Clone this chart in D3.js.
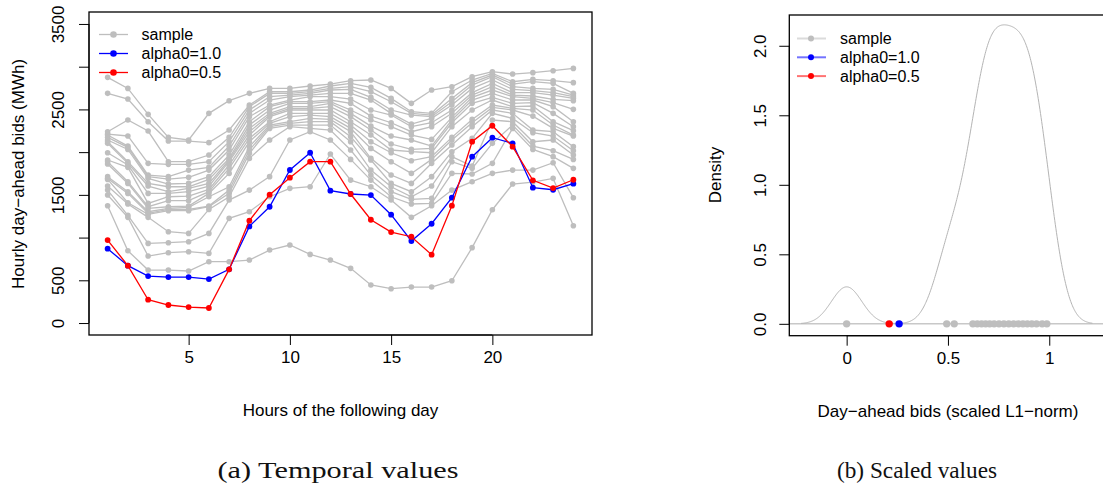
<!DOCTYPE html>
<html><head><meta charset="utf-8">
<script src="https://cdn.jsdelivr.net/npm/d3@7"></script>
<style>body{margin:0;background:#fff} svg{display:block}</style>
</head><body><svg id="c" width="1103" height="491"></svg>
<script>
// ---------------- data: panel (a) ----------------
const hours = [1,2,3,4,5,6,7,8,9,10,11,12,13,14,15,16,17,18,19,20,21,22,23,24];
const samples = [
 [2875,2746,2442,2173,2142,2454,2602,2688,2746,2746,2774,2797,2836,2844,2746,2571,2727,2766,2883,2941,2914,2930,2953,2980],
 [2688,2621,2356,2130,2130,2111,2259,2551,2707,2707,2727,2774,2805,2758,2629,2473,2454,2707,2844,2922,2824,2852,2836,2813],
 [2239,2376,2247,1888,1888,1966,2173,2532,2688,2688,2707,2746,2766,2707,2590,2454,2434,2629,2813,2902,2797,2824,2805,2688],
 [2212,2189,1869,1857,1857,1888,2122,2493,2649,2668,2688,2727,2735,2641,2493,2434,2415,2590,2785,2883,2766,2746,2735,2668],
 [2200,2071,1732,1713,1790,1822,2071,2454,2610,2649,2668,2688,2688,2610,2454,2329,2395,2551,2746,2844,2735,2719,2696,2649],
 [2173,2056,1713,1685,1705,1790,2025,2415,2551,2610,2649,2649,2621,2493,2434,2298,2344,2493,2696,2805,2696,2696,2668,2629],
 [2142,2032,1693,1627,1634,1713,1966,2356,2532,2590,2590,2610,2571,2422,2344,2239,2298,2454,2668,2766,2668,2657,2618,2602],
 [2122,1888,1634,1595,1595,1681,1927,2317,2493,2571,2571,2590,2493,2376,2298,2200,2149,2407,2641,2727,2649,2629,2579,2501],
 [2103,1869,1603,1537,1576,1634,1908,2278,2454,2532,2532,2571,2454,2305,2188,2142,2071,2376,2610,2688,2610,2610,2532,2356],
 [1993,1849,1517,1517,1537,1603,1888,2239,2434,2512,2512,2532,2415,2259,2095,2032,2044,2344,2571,2641,2571,2579,2454,2298],
 [1908,1822,1400,1478,1486,1564,1849,2200,2415,2493,2493,2493,2356,2200,2025,2005,1993,2298,2493,2610,2532,2540,2356,2251],
 [1888,1654,1361,1432,1432,1537,1810,2161,2356,2454,2454,2454,2317,2122,1993,1900,1947,2173,2383,2551,2512,2493,2317,2200],
 [1861,1634,1342,1361,1369,1517,1751,2122,2337,2415,2434,2415,2278,2044,1888,1751,1915,2142,2344,2524,2493,2422,2278,2188],
 [1713,1537,1303,1342,1354,1478,1595,2064,2317,2356,2395,2384,2239,1927,1732,1634,1869,2083,2298,2493,2454,2259,2239,2064],
 [1693,1517,1283,1330,1330,1369,1556,2025,2298,2337,2356,2356,2181,1908,1634,1537,1713,2005,2161,2454,2395,2227,2188,2017],
 [1681,1408,1272,1315,1315,1361,1517,1986,2278,2317,2317,2317,2122,1790,1595,1478,1603,1947,1837,2376,2356,2122,2142,1966],
 [1603,1393,1237,1069,1049,1330,1478,1927,2142,2298,2278,2259,2025,1732,1537,1447,1459,1888,1810,2103,2317,2071,2017,1915],
 [1556,1260,932,940,952,1049,1439,1556,1713,2142,2239,2142,1915,1673,1478,1393,1400,1751,1744,1869,2278,2032,1947,1810],
 [1498,1237,784,823,835,815,1225,1303,1478,1576,1595,1978,1673,1595,1439,1237,1373,1556,1654,1752,1790,1790,1876,1467],
 [1373,846,620,620,609,718,718,737,854,913,803,737,640,445,402,421,421,495,882,1326,1627,1650,1693,1139]
];
const alpha10 = [870,671,550,538,538,515,628,1131,1361,1791,1993,1549,1510,1498,1268,960,1162,1467,1947,2169,2103,1584,1560,1631];
const alpha05 = [971,671,273,211,187,176,628,1198,1502,1701,1888,1888,1510,1209,1065,1010,800,1373,2122,2309,2064,1670,1580,1677];
const xTicksA = [5,10,15,20];
const yTicksA = [0,500,1000,1500,2000,2500,3000,3500];
const yTickLabelsA = ["0","500","","1500","","2500","","3500"];

// ---------------- data: panel (b) ----------------
const scaledSample = [0,0.494,0.531,0.623,0.645,0.666,0.686,0.706,0.728,0.752,0.776,0.80,0.824,0.848,0.87,0.892,0.914,0.937,0.965,0.988];
const scaledAlpha10 = [0.259];
const scaledAlpha05 = [0.210];
const densityBandwidth = 0.075;
const xTicksB = [0,0.5,1];
const xTickLabelsB = ["0","0.5","1"];
const yTicksB = [0,0.5,1,1.5,2];
const yTickLabelsB = ["0.0","0.5","1.0","1.5","2.0"];

const legendLabels = ["sample","alpha0=1.0","alpha0=0.5"];
const legendColors = ["#BEBEBE","#0000FF","#FF0000"];

// ---------------- drawing ----------------
const svg = d3.select("#c");
const SANS = "'Liberation Sans', Arial, Helvetica, sans-serif";
const SERIF = "'Liberation Serif', 'Times New Roman', serif";

function rBottomAxis(g, scale, ticks, labels, y, labelOffset) {
  g.attr("transform", `translate(0,${y})`)
   .call(d3.axisBottom(scale).tickValues(ticks).tickFormat((d,i)=>labels[i]).tickSize(10).tickSizeOuter(0));
  g.select(".domain").attr("d", `M${scale(ticks[0])},0H${scale(ticks[ticks.length-1])}`).attr("stroke","#000").attr("stroke-width",1);
  g.selectAll(".tick line").attr("stroke","#000").attr("stroke-width",1);
  g.selectAll(".tick text").attr("y", labelOffset).attr("dy","0.35em")
   .style("font-family", SANS).style("font-size","17px").attr("fill","#000");
}
function rLeftAxis(g, scale, ticks, labels, x, labelOffset) {
  g.attr("transform", `translate(${x},0)`)
   .call(d3.axisLeft(scale).tickValues(ticks).tickFormat((d,i)=>labels[i]).tickSize(10).tickSizeOuter(0));
  g.select(".domain").attr("d", `M0,${scale(ticks[0])}V${scale(ticks[ticks.length-1])}`).attr("stroke","#000").attr("stroke-width",1);
  g.selectAll(".tick line").attr("stroke","#000").attr("stroke-width",1);
  g.selectAll(".tick text").attr("x",0).attr("y",0).attr("dy","0.35em")
   .attr("text-anchor","middle")
   .attr("transform", `translate(${-labelOffset},0) rotate(-90)`)
   .style("font-family", SANS).style("font-size","17px").attr("fill","#000");
}

// ===== Panel (a) =====
const xA = d3.scaleLinear().domain([0.08, 24.92]).range([89, 592]);
const yA = d3.scaleLinear().domain([-140, 3640]).range([335, 12]);
const gA = svg.append("g");
const lineA = d3.line().x((d,i)=>xA(hours[i])).y(d=>yA(d));

function drawSeries(g, vals, color, r) {
  g.append("path").datum(vals).attr("d", lineA).attr("fill","none").attr("stroke",color).attr("stroke-width",1.3);
  g.selectAll(null).data(vals).enter().append("circle")
    .attr("cx",(d,i)=>xA(hours[i])).attr("cy",d=>yA(d)).attr("r",r).attr("fill",color);
}
samples.forEach(s => drawSeries(gA, s, "#BEBEBE", 2.8));
drawSeries(gA, alpha10, "#0000FF", 2.9);
drawSeries(gA, alpha05, "#FF0000", 2.9);

gA.append("rect").attr("x",89).attr("y",12).attr("width",592-89).attr("height",335-12)
  .attr("fill","none").attr("stroke","#000").attr("stroke-width",1.3);
rBottomAxis(gA.append("g"), xA, xTicksA, xTicksA.map(String), 335, 22);
rLeftAxis(gA.append("g"), yA, yTicksA, yTickLabelsA, 89, 31);

gA.append("text").attr("x",340.5).attr("y",410).attr("dy","0.35em").attr("text-anchor","middle")
  .style("font-family",SANS).style("font-size","17px").text("Hours of the following day");
gA.append("text").attr("transform","translate(18,174) rotate(-90)").attr("dy","0.35em").attr("text-anchor","middle")
  .style("font-family",SANS).style("font-size","17px").text("Hourly day\u2212ahead bids (MWh)");

// legend (a)
legendLabels.forEach((lab,i)=>{
  const y = 34.5 + i*19;
  gA.append("line").attr("x1",99).attr("x2",128).attr("y1",y).attr("y2",y).attr("stroke",legendColors[i]).attr("stroke-width",1.3);
  gA.append("circle").attr("cx",113.5).attr("cy",y).attr("r",3.3).attr("fill",legendColors[i]);
  gA.append("text").attr("x",141.5).attr("y",y).attr("dy","0.35em").style("font-family",SANS).style("font-size","16px").text(lab);
});

// caption (a)
svg.append("text").attr("x",338).attr("y",478).attr("text-anchor","middle")
  .style("font-family",SERIF).style("font-size","23px").attr("fill","#111").attr("textLength",241).attr("lengthAdjust","spacingAndGlyphs")
  .text("(a) Temporal values");

// ===== Panel (b) =====
const xB = d3.scaleLinear().domain([-0.283, 1.283]).range([789.3, 1106.6]);
const yB = d3.scaleLinear().domain([-0.0854, 2.2214]).range([335.7, 15]);
const gB = svg.append("g");

function kde(values, bw, x) {
  let s = 0;
  for (const v of values) { const z = (x - v) / bw; s += Math.exp(-0.5*z*z); }
  return s / (values.length * bw * Math.sqrt(2*Math.PI));
}
const lo = d3.min(scaledSample) - 3*densityBandwidth;
const hi = d3.max(scaledSample) + 3*densityBandwidth;
const grid = d3.range(512).map(i => lo + (hi - lo) * i / 511);
const dens = grid.map(x => ({x, y: kde(scaledSample, densityBandwidth, x)}));

gB.append("line").attr("x1",xB.range()[0]).attr("x2",xB.range()[1]).attr("y1",yB(0)).attr("y2",yB(0))
  .attr("stroke","#C8C8C8").attr("stroke-width",1.5);
gB.append("path").datum(dens).attr("d", d3.line().x(d=>xB(d.x)).y(d=>yB(d.y)))
  .attr("fill","none").attr("stroke","#B4B4B4").attr("stroke-width",1);

function dots(vals, color) {
  gB.selectAll(null).data(vals).enter().append("circle")
    .attr("cx",d=>xB(d)).attr("cy",yB(0)).attr("r",3.7).attr("fill",color);
}
dots(scaledSample, "#BEBEBE");
dots(scaledAlpha05, "#FF0000");
dots(scaledAlpha10, "#0000FF");

gB.append("rect").attr("x",789.3).attr("y",15).attr("width",1106.6-789.3).attr("height",335.7-15)
  .attr("fill","none").attr("stroke","#000").attr("stroke-width",1.3);
rBottomAxis(gB.append("g"), xB, xTicksB, xTickLabelsB, 335.7, 22);
rLeftAxis(gB.append("g"), yB, yTicksB, yTickLabelsB, 789.3, 29);

gB.append("text").attr("x",948).attr("y",411).attr("dy","0.35em").attr("text-anchor","middle")
  .style("font-family",SANS).style("font-size","17px").text("Day\u2212ahead bids (scaled L1\u2212norm)");
gB.append("text").attr("transform","translate(715,175) rotate(-90)").attr("dy","0.35em").attr("text-anchor","middle")
  .style("font-family",SANS).style("font-size","17px").text("Density");

// legend (b)
legendLabels.forEach((lab,i)=>{
  const y = 38.5 + i*18.8;
  gB.append("line").attr("x1",797).attr("x2",826).attr("y1",y).attr("y2",y).attr("stroke",legendColors[i]).attr("stroke-opacity",0.55).attr("stroke-width",2);
  gB.append("circle").attr("cx",811).attr("cy",y).attr("r",3).attr("fill",legendColors[i]);
  gB.append("text").attr("x",840).attr("y",y).attr("dy","0.35em").style("font-family",SANS).style("font-size","16px").text(lab);
});

svg.append("text").attr("x",917).attr("y",478).attr("text-anchor","middle")
  .style("font-family",SERIF).style("font-size","23px").attr("fill","#111").attr("textLength",160).attr("lengthAdjust","spacingAndGlyphs")
  .text("(b) Scaled values");
</script></body></html>
